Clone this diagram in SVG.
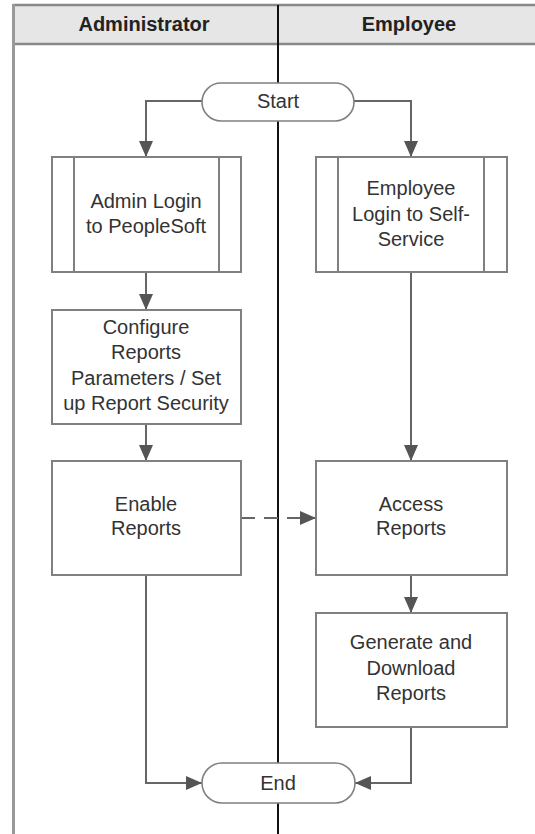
<svg xmlns="http://www.w3.org/2000/svg" width="535" height="834" viewBox="0 0 535 834">
<style>
.box{fill:#fff;stroke:#808080;stroke-width:2}
.pill{fill:#fff;stroke:#808080;stroke-width:1.6}
.inner{stroke:#808080;stroke-width:2}
.t{font-family:"Liberation Sans",Arial,sans-serif;font-size:20px;fill:#333;text-anchor:middle}
.h{font-family:"Liberation Sans",Arial,sans-serif;font-size:20px;font-weight:bold;fill:#222;text-anchor:middle}
.c{fill:none;stroke:#666;stroke-width:2}
</style>
<defs>
<marker id="arr" markerUnits="userSpaceOnUse" markerWidth="16" markerHeight="14" refX="16" refY="7" orient="auto">
<path d="M0,0 L16,7 L0,14 z" fill="#555"/>
</marker>
</defs>
<rect width="535" height="834" fill="#fff"/>
<g id="lanes">
<rect x="13" y="5" width="530" height="39" fill="#e6e6e6"/>
<line x1="13" y1="5" x2="535" y2="5" stroke="#888" stroke-width="2.5"/>
<line x1="13" y1="44" x2="535" y2="44" stroke="#888" stroke-width="2.5"/>
<line x1="13.5" y1="4" x2="13.5" y2="834" stroke="#999" stroke-width="3"/>
<line x1="278" y1="5" x2="278" y2="834" stroke="#111" stroke-width="2"/>
<text class="h" x="144" y="31">Administrator</text>
<text class="h" x="409" y="31">Employee</text>
</g>
<g id="connectors">
<path class="c" d="M202,101 H146 V157" marker-end="url(#arr)"/>
<path class="c" d="M354,101 H411 V157" marker-end="url(#arr)"/>
<path class="c" d="M146,272 V310" marker-end="url(#arr)"/>
<path class="c" d="M146,424 V461" marker-end="url(#arr)"/>
<path class="c" d="M411,272 V461" marker-end="url(#arr)"/>
<path class="c" d="M241,518 H316" stroke-dasharray="14,9" marker-end="url(#arr)"/>
<path class="c" d="M411,575 V613" marker-end="url(#arr)"/>
<path class="c" d="M146,575 V783 H202" marker-end="url(#arr)"/>
<path class="c" d="M411,727 V783 H355" marker-end="url(#arr)"/>
</g>
<g id="start">
<rect class="pill" x="202" y="83" width="152" height="38" rx="19"/>
<text class="t" x="278" y="108">Start</text>
</g>
<g id="admin-login">
<rect class="box" x="52" y="157" width="189" height="115"/>
<line class="inner" x1="74" y1="157" x2="74" y2="272"/>
<line class="inner" x1="219" y1="157" x2="219" y2="272"/>
<text class="t" x="146" y="208">Admin Login</text>
<text class="t" x="146" y="233">to PeopleSoft</text>
</g>
<g id="employee-login">
<rect class="box" x="316" y="157" width="191" height="115"/>
<line class="inner" x1="338" y1="157" x2="338" y2="272"/>
<line class="inner" x1="484" y1="157" x2="484" y2="272"/>
<text class="t" x="411" y="195">Employee</text>
<text class="t" x="411" y="220.5">Login to Self-</text>
<text class="t" x="411" y="246">Service</text>
</g>
<g id="configure">
<rect class="box" x="52" y="310" width="189" height="114"/>
<text class="t" x="146" y="334">Configure</text>
<text class="t" x="146" y="359">Reports</text>
<text class="t" x="146" y="384.5">Parameters / Set</text>
<text class="t" x="146" y="410">up Report Security</text>
</g>
<g id="enable">
<rect class="box" x="52" y="461" width="189" height="114"/>
<text class="t" x="146" y="511">Enable</text>
<text class="t" x="146" y="535">Reports</text>
</g>
<g id="access">
<rect class="box" x="316" y="461" width="191" height="114"/>
<text class="t" x="411" y="511">Access</text>
<text class="t" x="411" y="535">Reports</text>
</g>
<g id="generate">
<rect class="box" x="316" y="613" width="191" height="114"/>
<text class="t" x="411" y="649">Generate and</text>
<text class="t" x="411" y="675">Download</text>
<text class="t" x="411" y="700">Reports</text>
</g>
<g id="end">
<rect class="pill" x="202" y="763" width="153" height="40" rx="20"/>
<text class="t" x="278" y="790">End</text>
</g>
</svg>
